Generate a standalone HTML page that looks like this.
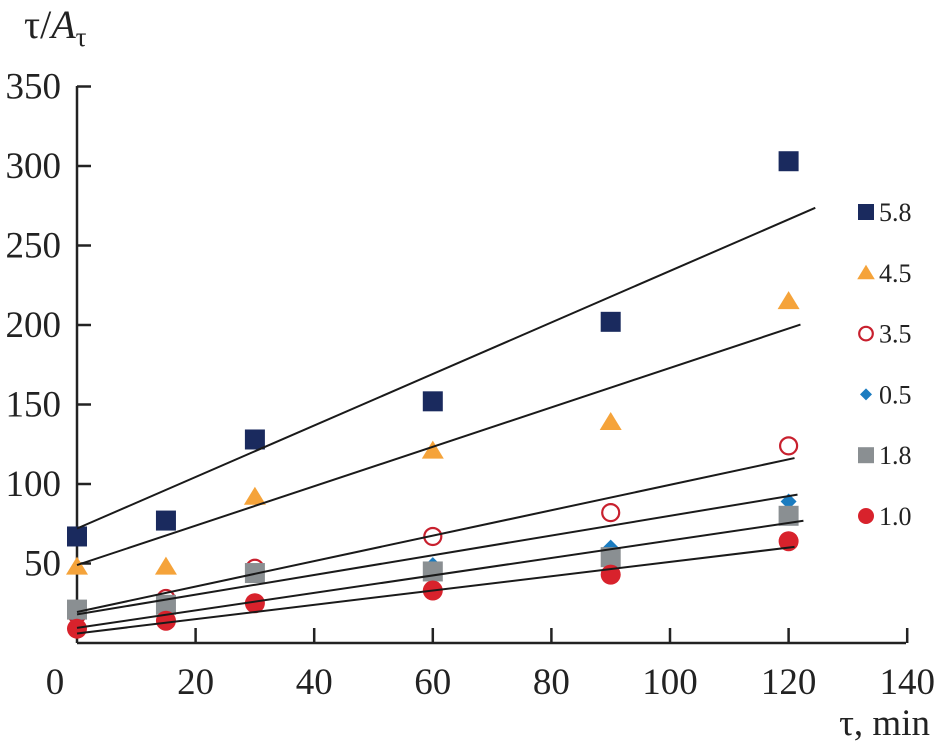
<!DOCTYPE html>
<html><head><meta charset="utf-8"><style>
body{margin:0;background:#fff}
svg{display:block;font-family:"Liberation Serif",serif}
</style></head><body>
<svg id="c" width="936" height="751"></svg>
<script>
const xTicks=[0,20,40,60,80,100,120,140];
const yTicks=[50,100,150,200,250,300,350];
const xVals=[0,15,30,60,90,120];
const seriesNames=["5.8","4.5","3.5","0.5","1.8","1.0"];
const s58=[67,77,128,152,202,303];
const s45=[48,48,92,121,139,215];
const s35=[18,28,47,67,82,124];
const s05=[16,24,43,49,60,89];
const s18=[21,24,44,45,54,80];
const s10=[9,14,25,33,43,64];
const intercepts=[72,49,19.5,18,9.5,6];
const slopes=[1.62,1.24,0.8,0.62,0.55,0.45];
const lineEnds=[124.5,122,121,121.5,122.5,121];
const lineStart=0;

const X=v=>77+v*5.93, Y=v=>643-v*1.59;
const svg=document.getElementById('c');
const NS='http://www.w3.org/2000/svg';
function mk(t,a,p){const e=document.createElementNS(NS,t);for(const k in a)e.setAttribute(k,a[k]);(p||svg).appendChild(e);return e;}
let e;
e=mk('line',{x1:77,y1:86,x2:77,y2:643,stroke:'#222','stroke-width':2.5});


e=mk('line',{x1:77,y1:643,x2:906,y2:643,stroke:'#222','stroke-width':2.5});


xTicks.forEach(t=>{
  if(t>0){e=mk('line',{x1:X(t),y1:643,x2:X(t),y2:628,stroke:'#222','stroke-width':2.5});
  
  }
  e=mk('text',{x:t==0?55:X(t),y:694,'font-size':37,'text-anchor':'middle',fill:'#222'});e.textContent=t;
  
  
});
yTicks.forEach(t=>{
  e=mk('line',{x1:77,y1:Y(t),x2:91,y2:Y(t),stroke:'#222','stroke-width':2.5});
  
  
  e=mk('text',{x:61,y:Y(t)+12,'font-size':37,'text-anchor':'end',fill:'#222'});e.textContent=t;
  
  
});
e=mk('text',{x:24,y:38,'font-size':40,fill:'#222'});
e.innerHTML='τ/<tspan font-style="italic">A</tspan><tspan font-size="27" dy="8">τ</tspan>';


e=mk('text',{x:930,y:735,'font-size':37,'text-anchor':'end',fill:'#222'});e.textContent='τ, min';



const all=[s58,s45,s35,s05,s18,s10];
function marker(i,cx,cy,s,p){
  let m;
  if(i==0) m=mk('rect',{x:cx-s,y:cy-s,width:2*s,height:2*s,fill:'#1a2a5e'},p);
  else if(i==1) m=mk('polygon',{points:`${cx},${cy-s} ${cx+s*1.1},${cy+s*0.8} ${cx-s*1.1},${cy+s*0.8}`,fill:'#f5a33a'},p);
  else if(i==2) m=mk('circle',{cx,cy,r:s*0.85,fill:'none',stroke:'#c8202e','stroke-width':2.2},p);
  else if(i==3) m=mk('polygon',{points:`${cx},${cy-s} ${cx+s},${cy} ${cx},${cy+s} ${cx-s},${cy}`,fill:'#1b7cc0'},p);
  else if(i==4) m=mk('rect',{x:cx-s,y:cy-s,width:2*s,height:2*s,fill:'#8a8f92'},p);
  else m=mk('circle',{cx,cy,r:s,fill:'#d8222c'},p);
  return m;
}
const order=[0,1,3,2,4,5];
order.forEach(i=>{
  const g=mk('g',{});
  
  
  all[i].forEach((v,j)=>{
    const m=marker(i,X(xVals[j]),Y(v),i==3?8:10,g);
    
    
  });
});
all.forEach((s,i)=>{
  e=mk('line',{x1:X(lineStart),y1:Y(intercepts[i]),x2:X(lineEnds[i]),y2:Y(intercepts[i]+slopes[i]*lineEnds[i]),stroke:'#1a1a1a','stroke-width':2});
  
  
});
seriesNames.forEach((n,i)=>{
  const y=212+i*60.8;
  const g=mk('g',{});
  
  
  marker(i,866,y,i==3?6:8,g);
  const t=mk('text',{x:879,y:y+9,'font-size':26,fill:'#222'},g);t.textContent=n;
});
</script>
</body></html>
